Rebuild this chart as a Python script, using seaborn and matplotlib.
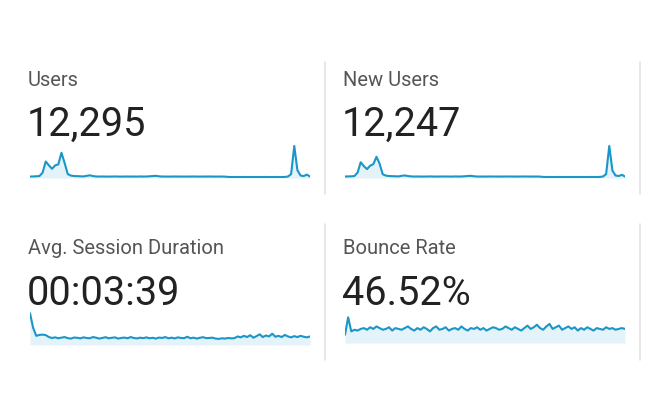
import matplotlib
matplotlib.use("Agg")
import matplotlib.pyplot as plt
from matplotlib.lines import Line2D
import seaborn as sns
import pandas as pd

# metric cards
titles = ["Users", "New Users", "Avg. Session Duration", "Bounce Rate"]
totals = ["12,295", "12,247", "00:03:39", "46.52%"]

# daily values
users = [70, 72, 75, 80, 150, 380, 300, 230, 300, 320, 560, 350, 120, 90, 80, 78,
         75, 72, 85, 95, 80, 72, 70, 71, 70, 69, 70, 72, 70, 69, 70, 71, 70, 70, 69,
         72, 70, 71, 75, 80, 85, 75, 70, 70, 69, 70, 71, 70, 70, 69, 70, 70, 71, 70,
         69, 70, 70, 71, 70, 69, 70, 70, 68, 62, 60, 61, 60, 60, 61, 60, 60, 60, 61,
         60, 60, 61, 60, 60, 61, 60, 60, 62, 70, 120, 700, 200, 90, 80, 110, 70]
new_users = [70, 72, 74, 80, 150, 360, 280, 220, 290, 320, 470, 330, 115, 88, 80,
             77, 75, 72, 84, 92, 80, 72, 70, 71, 70, 69, 70, 72, 70, 69, 70, 71, 70,
             70, 69, 72, 70, 71, 75, 80, 84, 75, 70, 70, 69, 70, 71, 70, 70, 69, 70,
             70, 71, 70, 69, 70, 70, 71, 70, 69, 70, 70, 68, 62, 60, 61, 60, 60, 61,
             60, 60, 60, 61, 60, 60, 61, 60, 60, 61, 60, 60, 62, 70, 120, 690, 190,
             90, 80, 105, 70]
avg_session = [620, 380, 250, 265, 270, 262, 230, 215, 225, 210, 220, 230, 212, 205,
               222, 218, 208, 225, 215, 210, 230, 220, 205, 215, 228, 210, 218, 225,
               205, 215, 222, 210, 230, 215, 208, 220, 212, 225, 210, 218, 205, 222,
               215, 230, 210, 220, 208, 225, 215, 212, 235, 210, 220, 205, 218, 228,
               212, 215, 220, 205, 200, 210, 205, 215, 208, 212, 240, 225, 250, 230,
               260, 220, 245, 275, 230, 255, 240, 285, 235, 250, 230, 265, 240, 225,
               245, 230, 250, 235, 225, 240]
bounce_rate = [40, 61, 44, 46, 45, 47, 48, 46, 49, 47, 50, 48, 46, 47, 49, 45, 48, 47,
               46, 48, 50, 47, 45, 48, 46, 49, 47, 44, 48, 50, 46, 47, 49, 45, 47, 48,
               46, 50, 47, 45, 48, 47, 49, 46, 48, 45, 47, 49, 48, 46, 47, 50, 48, 46,
               49, 47, 45, 48, 51, 47, 49, 52, 48, 46, 50, 53, 47, 49, 51, 46, 48, 50,
               47, 49, 45, 48, 46, 49, 47, 45, 48, 47, 46, 49, 47, 48, 46, 47, 48, 47]

series = [users, new_users, avg_session, bounce_rate]
y_limits = [(40, 740), (40, 730), (100, 640), (30, 65)]

sns.set_style("white")
plt.rcParams["font.family"] = ["Roboto", "DejaVu Sans"]

W, H = 650, 393
fig = plt.figure(figsize=(W / 100, H / 100), dpi=100)


def px(x, y):
    # pixel position (top-left origin) -> figure fraction
    return x / W, 1 - y / H


line_color = "#1a96c8"
fill_color = "#e4f3fa"

# card anchors: (left x, label baseline y, number baseline y, spark top, spark bottom)
cards = [
    (28, 86, 136, 144, 178),
    (343, 86, 136, 144, 178),
    (28, 254, 305, 312, 345),
    (343, 254, 305, 314, 343),
]

for pos, (x0, y_lab, y_num, s_top, s_bot) in enumerate(cards):
    fx, fy = px(x0, y_lab)
    fig.text(fx, fy, titles[pos], fontsize=14.5, color="#555555", va="baseline")
    fx, fy = px(x0 - 1, y_num)
    fig.text(fx, fy, totals[pos], fontsize=28.5, color="#222222", va="baseline")

    left, bottom = px(x0 + 2, s_bot)
    ax = fig.add_axes([left, bottom, 280 / W, (s_bot - s_top) / H])
    df = pd.DataFrame({"day": range(len(series[pos])), "value": series[pos]})
    sns.lineplot(data=df, x="day", y="value", ax=ax, color=line_color, linewidth=1.5)
    ax.fill_between(df["day"], df["value"], y_limits[pos][0], color=fill_color, lw=0)
    ax.set_ylim(*y_limits[pos])
    ax.set_xlim(0, len(series[pos]) - 1)
    ax.axis("off")

# card dividers
for x in (325, 640):
    for y_a, y_b in ((62, 194), (224, 360)):
        (xa, ya), (xb, yb) = px(x, y_a), px(x, y_b)
        fig.add_artist(Line2D([xa, xb], [ya, yb], color="#e3e3e3", lw=1.2))

fig.savefig("out.png", dpi=100)
